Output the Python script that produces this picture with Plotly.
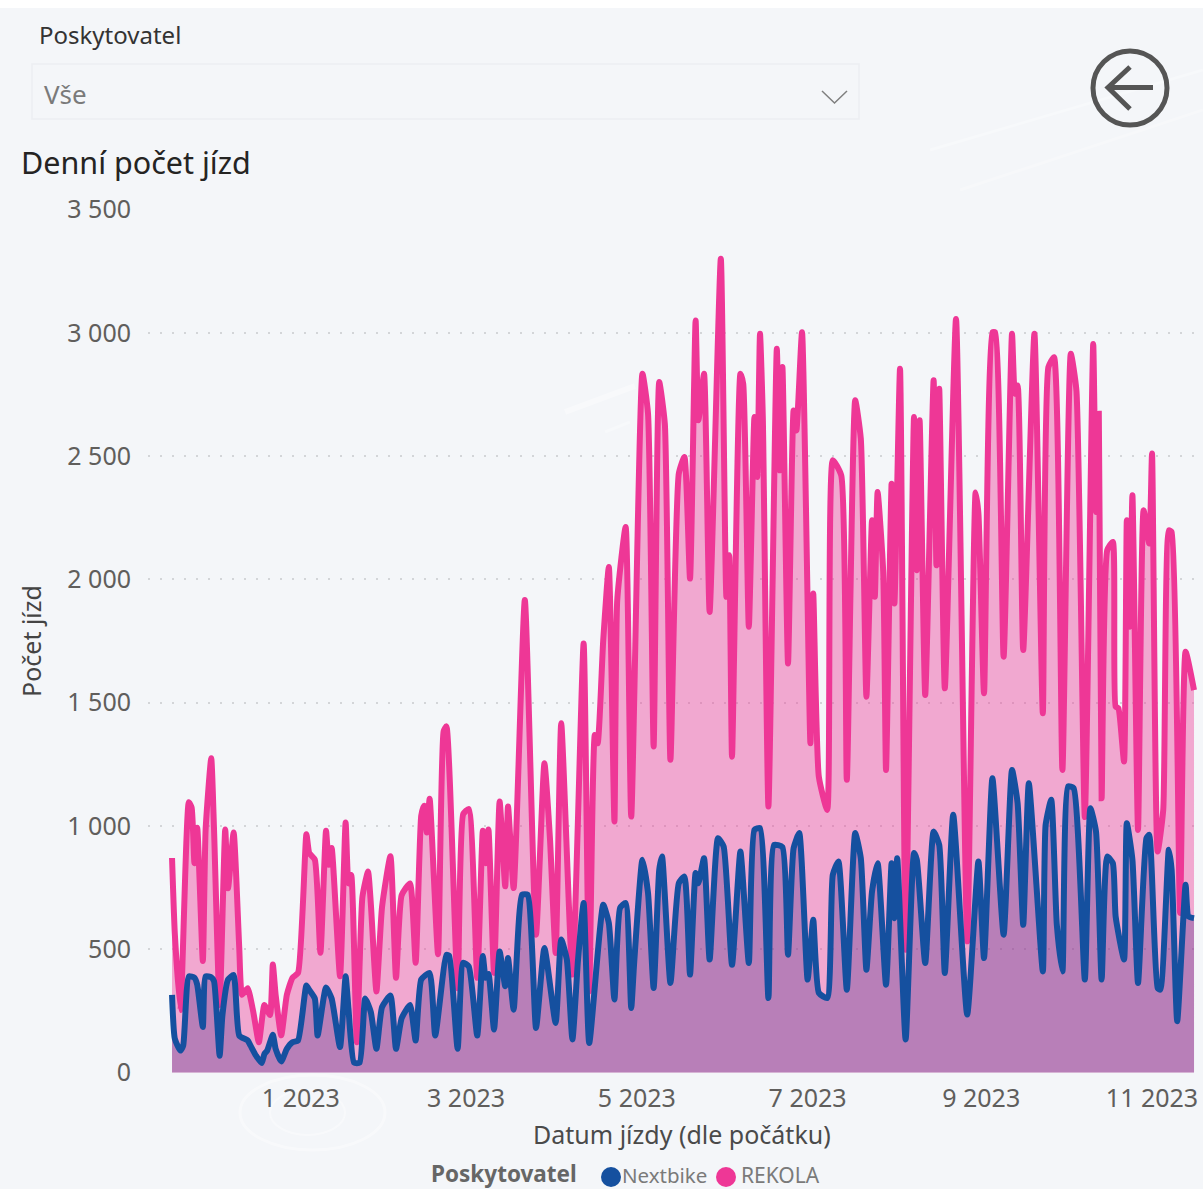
import pandas as pd
import plotly.graph_objects as go

# Day offsets from the first day of the chart
start_date = "2022-11-16"

rekola_days = [0, 1, 3, 6, 7, 8, 9, 11, 12, 14, 15, 17, 19, 20, 22, 24, 25, 27, 29, 31, 33, 35, 36, 37, 39, 41, 43, 45,
               48, 49, 51, 53, 55, 56, 57, 60, 62, 63, 64, 66, 68, 70, 71, 73, 75, 78, 80, 82, 85, 87, 89, 90, 91, 92,
               95, 97, 98, 102, 104, 106, 109, 111, 112, 113, 115, 117, 119, 120, 122, 126, 130, 133, 135, 137, 139,
               143, 147, 149, 151, 152, 154, 156, 158, 159, 162, 164, 168, 170, 172, 174, 176, 178, 181, 183, 185, 187,
               188, 190, 192, 196, 198, 199, 200, 203, 204, 206, 208, 209, 210, 211, 213, 216, 217, 218, 220, 222, 223,
               225, 228, 229, 231, 234, 236, 239, 241, 244, 246, 248, 250, 251, 252, 254, 255, 257, 258, 260, 262, 265,
               266, 267, 269, 272, 273, 274, 276, 280, 284, 287, 288, 290, 293, 294, 297, 300, 301, 302, 304, 308, 311,
               313, 315, 318, 321, 323, 326, 329, 330, 331, 332, 334, 336, 337, 338, 340, 341, 342, 343, 345, 347, 349,
               350, 352, 354, 356, 357, 360, 362, 365]
rekola_rides = [870, 562, 253, 1096, 1075, 849, 993, 452, 986, 1274, 986, 274, 986, 747, 973, 507, 315, 342, 247, 123,
                274, 233, 438, 315, 151, 315, 384, 404, 966, 890, 863, 486, 980, 843, 911, 390, 1014, 767, 801, 123,
                712, 815, 685, 329, 671, 877, 384, 719, 767, 445, 1041, 1082, 973, 1110, 480, 1384, 1404, 342, 1048,
                1069, 384, 980, 849, 986, 404, 1099, 755, 1079, 748, 1916, 559, 1254, 944, 485, 1416, 397, 1740, 329,
                1369, 1335, 1753, 2050, 1018, 1915, 2212, 1038, 2834, 2672, 1322, 2800, 2631, 1268, 2429, 2496, 2003,
                3050, 2645, 2834, 1868, 3300, 1929, 2098, 1281, 2834, 2793, 1808, 2658, 2415, 2996, 2658, 1079, 2935,
                2442, 2861, 1659, 2685, 2604, 3002, 1335, 1943, 1200, 1065, 2483, 2422, 1187, 2726, 2570, 1524, 2240,
                1929, 2354, 2030, 1227, 2388, 1902, 2854, 498, 2658, 2037, 2645, 1531, 2807, 2057, 2773, 1558, 3056,
                532, 2352, 2267, 1538, 3002, 3002, 1686, 2996, 2753, 2786, 1713, 2996, 1457, 2861, 2901, 1227, 2915,
                2766, 1036, 2955, 2273, 2672, 1112, 2118, 2152, 1484, 1477, 1261, 2240, 1808, 2341, 984, 2280, 2145,
                2510, 896, 1065, 2199, 2192, 647, 1706, 1551]

nextbike_days = [0, 1, 3, 4, 6, 8, 9, 11, 12, 14, 15, 17, 18, 20, 22, 24, 27, 28, 30, 32, 33, 34, 36, 37, 39, 41, 43, 45,
                 48, 49, 51, 52, 55, 57, 60, 62, 63, 65, 67, 69, 71, 73, 75, 78, 80, 82, 85, 87, 89, 92, 94, 98, 99, 102,
                 104, 106, 109, 111, 112, 113, 115, 117, 119, 120, 122, 125, 127, 130, 133, 137, 139, 141, 143, 145, 147,
                 149, 154, 156, 158, 160, 162, 164, 165, 168, 170, 172, 174, 175, 178, 181, 183, 185, 187, 188, 190, 192,
                 195, 197, 200, 203, 206, 208, 210, 213, 215, 218, 220, 222, 224, 227, 229, 231, 234, 236, 238, 241, 244,
                 246, 248, 250, 252, 255, 257, 258, 259, 262, 265, 266, 269, 272, 274, 276, 279, 284, 288, 290, 293, 297,
                 300, 302, 304, 306, 311, 312, 314, 316, 318, 320, 322, 326, 328, 330, 332, 334, 336, 337, 340, 341, 343,
                 345, 348, 349, 352, 353, 356, 357, 359, 362, 363, 365]
nextbike_rides = [315, 137, 89, 110, 390, 384, 356, 185, 390, 386, 370, 68, 233, 377, 395, 150, 130, 110, 68, 38, 75, 89,
                  153, 96, 45, 96, 123, 130, 353, 335, 300, 150, 345, 300, 103, 390, 260, 40, 40, 300, 245, 96, 265, 312,
                  96, 220, 274, 130, 377, 404, 150, 477, 473, 96, 445, 430, 150, 473, 384, 400, 174, 491, 350, 464, 255,
                  721, 721, 181, 505, 201, 539, 458, 134, 458, 687, 120, 680, 606, 296, 667, 687, 262, 437, 863, 728, 343,
                  822, 876, 363, 768, 795, 397, 809, 768, 869, 458, 950, 917, 437, 896, 444, 984, 991, 302, 923, 914, 478,
                  910, 971, 377, 620, 323, 302, 802, 856, 336, 971, 869, 417, 734, 849, 356, 849, 626, 869, 134, 890, 863,
                  444, 977, 923, 404, 1045, 235, 856, 464, 1193, 559, 1227, 1092, 599, 1173, 410, 1004, 1106, 599, 410,
                  1160, 1153, 377, 1072, 977, 377, 876, 849, 633, 458, 1011, 863, 363, 950, 964, 343, 336, 903, 822, 208,
                  761, 633, 626]

y_ticks = [0, 500, 1000, 1500, 2000, 2500, 3000, 3500]

BLUE = "#15509f"
PINK = "#ee3796"
BG = "#f4f6f9"
FONT = "Noto Sans"

# plot area in window pixels, used to place the report furniture around it
L, R, T, B = 148, 1203, 209, 1073


def fx(px):
    return (px - L) / (R - L)


def fy(py):
    return (B - py) / (B - T)


def to_dates(days):
    return pd.Timestamp(start_date) + pd.to_timedelta(days, unit="D")


fig = go.Figure()
fig.add_trace(go.Scatter(
    x=to_dates(rekola_days), y=rekola_rides, name="REKOLA", mode="lines",
    line=dict(color=PINK, width=6, shape="spline", smoothing=0.5),
    fill="tozeroy", fillcolor="rgba(238,55,150,0.41)",
    showlegend=False,
))
fig.add_trace(go.Scatter(
    x=to_dates(nextbike_days), y=nextbike_rides, name="Nextbike", mode="lines",
    line=dict(color=BLUE, width=6, shape="spline", smoothing=0.5),
    fill="tozeroy", fillcolor="rgba(76,51,139,0.35)",
    showlegend=False,
))


def label(text, px, py, size, color, bold=False):
    fig.add_annotation(
        text=f"<b>{text}</b>" if bold else text,
        x=fx(px - 2), y=fy(py), xref="paper", yref="paper", xanchor="left", yanchor="middle",
        showarrow=False, font=dict(family=FONT, size=size, color=color),
    )


label("Poskytovatel", 39, 34, 24, "#333333")
label("Vše", 44, 94, 26, "#7a7a7a")
label("Denní počet jízd", 21, 162, 30.5, "#252423")
label("Datum jízdy (dle počátku)", 533, 1134, 25, "#4a4a4a")
label("Poskytovatel", 431, 1173, 22.5, "#666666", bold=True)
label("Nextbike", 622, 1175, 20.5, "#7a7a7a")
label("REKOLA", 741, 1175, 21, "#7a7a7a")


def box(kind, x0, x1, y0, y1, **style):
    return dict(type=kind, xref="paper", yref="paper", x0=fx(x0), x1=fx(x1), y0=fy(y0), y1=fy(y1), **style)


def stroke(path, color, width, layer="above"):
    d = " ".join(f"{c} {fx(p[0])} {fy(p[1])}" for c, p in zip(["M"] + ["L"] * (len(path) - 1), path))
    return dict(type="path", xref="paper", yref="paper", path=d, line=dict(color=color, width=width), layer=layer)


shapes = [
    # white strip along the top of the page
    box("rect", 0, 1203, 0, 8, fillcolor="white", line_width=0),
    # faint report background artwork
    stroke([(565, 412), (635, 386)], "rgba(255,255,255,0.35)", 6, "below"),
    stroke([(605, 432), (630, 422)], "rgba(255,255,255,0.3)", 3, "below"),
    stroke([(930, 150), (1203, 70)], "rgba(255,255,255,0.3)", 3, "below"),
    stroke([(960, 190), (1203, 110)], "rgba(255,255,255,0.25)", 3, "below"),
    box("circle", 240, 385, 1075, 1150, line=dict(color="rgba(255,255,255,0.4)", width=3), layer="below"),
    box("circle", 270, 345, 1090, 1135, line=dict(color="rgba(255,255,255,0.4)", width=2), layer="below"),
    # slicer box and chevron
    box("rect", 32, 859, 64, 119, line=dict(color="#eceef2", width=1.5)),
    stroke([(822, 91), (834.5, 103), (847, 91)], "#7f7f7f", 1.5),
    # back button
    box("circle", 1093, 1167, 51, 125, line=dict(color="#555555", width=5)),
    stroke([(1153, 87.5), (1108, 87.5)], "#555555", 5),
    stroke([(1130, 67), (1108, 87.5), (1130, 109)], "#555555", 5),
    # legend dots
    box("circle", 601, 621, 1167, 1187, fillcolor=BLUE, line_width=0),
    box("circle", 716, 736, 1167, 1187, fillcolor=PINK, line_width=0),
]

fig.update_layout(
    width=1203, height=1189,
    margin=dict(l=L, r=1203 - R, t=T, b=1189 - B),
    paper_bgcolor=BG, plot_bgcolor="rgba(0,0,0,0)",
    separators=". ",
    font=dict(family=FONT, size=25, color="#605e5c"),
    showlegend=False,
    shapes=shapes,
    xaxis=dict(
        range=["2022-11-07 10:00", "2023-11-19 05:00"],
        tick0="2023-01-01", dtick="M2", tickformat="%-m %Y",
        showgrid=False, zeroline=False, showline=False,
        ticks="outside", ticklen=3, tickcolor="rgba(0,0,0,0)",
    ),
    yaxis=dict(
        # a hair wider than 0-3500 so the end gridlines are still drawn
        range=[-2, 3502], tickvals=y_ticks, tickformat=",",
        showgrid=True, gridcolor="#d3d5d8", griddash="2px,10px", gridwidth=1.5,
        zeroline=False, showline=False,
        ticks="outside", ticklen=11, tickcolor="rgba(0,0,0,0)",
        title=dict(text="Počet jízd", font=dict(size=25, color="#444444"), standoff=18),
    ),
)

fig.write_html("out.html", config=dict(displayModeBar=False),
               post_script="document.body.style.margin='0';document.body.style.overflow='hidden';")
